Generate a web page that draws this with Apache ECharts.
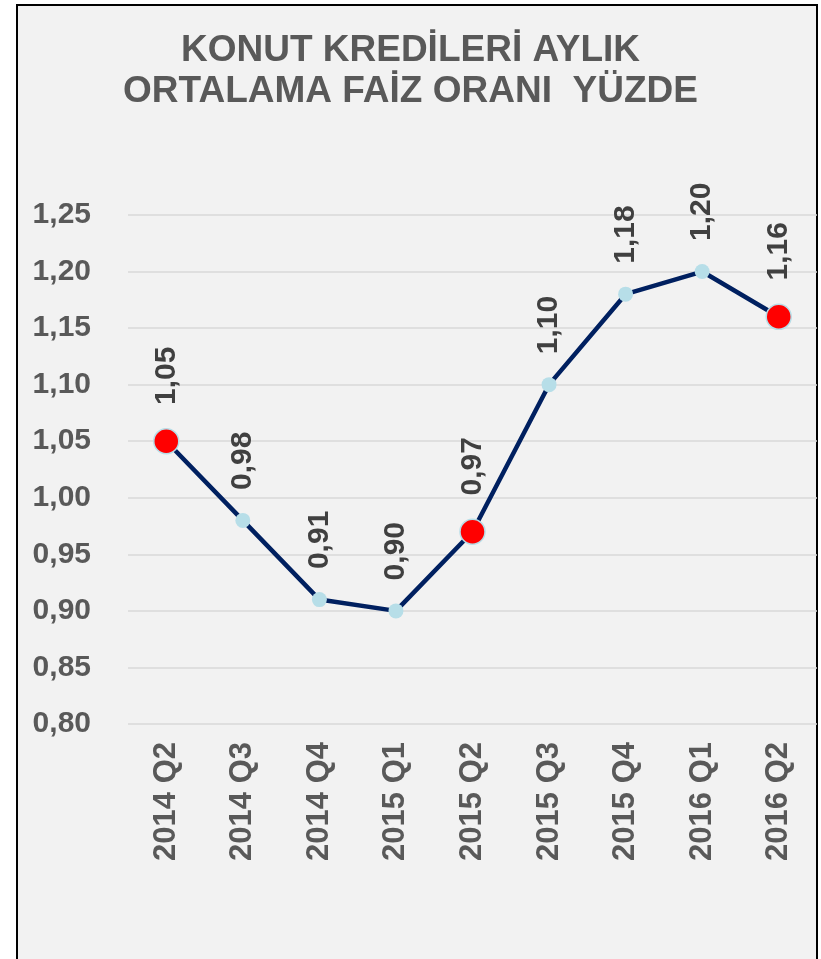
<!DOCTYPE html>
<html>
<head>
<meta charset="utf-8">
<script src="https://cdn.jsdelivr.net/npm/echarts@6/dist/echarts.min.js"></script>
<style>
    html, body { margin: 0; padding: 0; background: #fff; overflow: hidden; }
    #frame {
        position: absolute; left: 16px; top: 4px; width: 802px; height: 1000px;
        box-sizing: border-box; border: 2px solid #000; background: #f2f2f2;
    }
    #chart { position: absolute; left: 0; top: 0; width: 821px; height: 959px; }
</style>
</head>
<body>
<div id="frame"></div>
<div id="chart"></div>
<script>
// 季度
var quarters = ['2014 Q2', '2014 Q3', '2014 Q4', '2015 Q1', '2015 Q2', '2015 Q3', '2015 Q4', '2016 Q1', '2016 Q2'];
// 月平均利率 %
var rates = [1.05, 0.98, 0.91, 0.90, 0.97, 1.10, 1.18, 1.20, 1.16];
// 红点
var highlighted = [0, 4, 8];

var font = '"Liberation Sans", Arial, sans-serif';

function comma(v) {
    return Number(v).toFixed(2).replace('.', ',');
}

var points = rates.map(function (v, i) {
    if (highlighted.indexOf(i) >= 0) {
        return {
            value: v,
            symbolSize: 25,
            itemStyle: { color: '#ff0000', borderColor: '#b7dee8', borderWidth: 1.5 }
        };
    }
    return { value: v };
});

var myChart = echarts.init(document.getElementById('chart'));
var option = {
    animation: false,
    backgroundColor: 'transparent',
    title: {
        text: 'KONUT KREDİLERİ AYLIK\nORTALAMA FAİZ ORANI  YÜZDE',
        left: 'center',
        top: 25,
        textStyle: {
            fontFamily: font,
            fontSize: 37,
            fontWeight: 'bold',
            color: '#595959',
            lineHeight: 41
        }
    },
    grid: {
        left: 128,
        right: 4,
        top: 215,
        bottom: 235
    },
    xAxis: {
        type: 'category',
        data: quarters,
        boundaryGap: true,
        axisLine: { show: false },
        axisTick: { show: false },
        axisLabel: {
            rotate: 90,
            margin: 18,
            fontFamily: font,
            fontSize: 31,
            fontWeight: 'bold',
            color: '#595959'
        }
    },
    yAxis: {
        type: 'value',
        min: 0.8,
        max: 1.25,
        interval: 0.05,
        axisLine: { show: false },
        axisTick: { show: false },
        splitLine: { lineStyle: { color: '#d9d9d9', width: 1.5 } },
        axisLabel: {
            margin: 37,
            fontFamily: font,
            fontSize: 30,
            fontWeight: 'bold',
            color: '#595959',
            formatter: comma
        }
    },
    series: [
        {
            type: 'line',
            data: points,
            symbol: 'circle',
            symbolSize: 15,
            lineStyle: { color: '#002060', width: 4.5 },
            itemStyle: { color: '#b7dee8' },
            label: {
                show: true,
                position: 'top',
                distance: 23,
                rotate: 90,
                align: 'left',
                verticalAlign: 'middle',
                fontFamily: font,
                fontSize: 30,
                fontWeight: 'bold',
                color: '#404040',
                formatter: function (p) { return comma(p.value); }
            }
        }
    ]
};
myChart.setOption(option);
</script>
</body>
</html>
